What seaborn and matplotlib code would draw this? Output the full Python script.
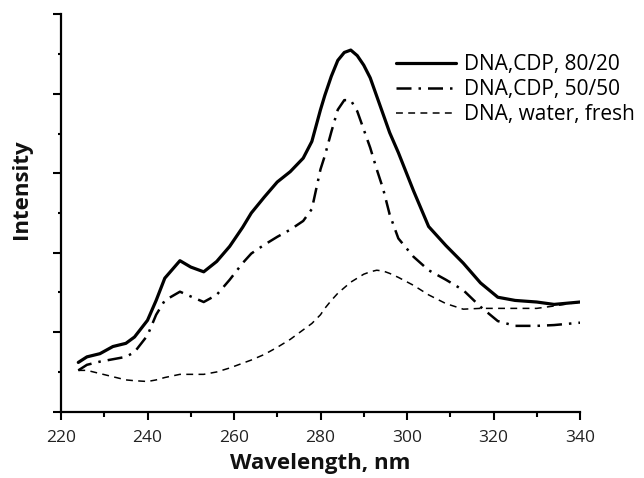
import matplotlib
matplotlib.use("Agg")
import matplotlib.pyplot as plt
from matplotlib.ticker import MultipleLocator, NullFormatter
import seaborn as sns
import pandas as pd

wavelength = [224, 226, 229, 232, 235, 237, 240, 242, 244, 247.5, 250, 253, 256, 259,
              262, 264, 267, 270, 273, 276, 278, 280, 281, 282.5, 284, 285.5, 287, 288.5,
              290, 291.5, 293, 294.5, 296, 298, 301.5, 305, 309, 313, 317, 321, 325, 330,
              334, 340]

cdp_80_20 = [0.62, 0.69, 0.73, 0.82, 0.86, 0.94, 1.15, 1.40, 1.68, 1.90, 1.82, 1.76, 1.89, 2.08,
             2.32, 2.50, 2.70, 2.89, 3.02, 3.19, 3.40, 3.80, 3.98, 4.22, 4.42, 4.52, 4.55, 4.48,
             4.36, 4.20, 3.97, 3.74, 3.51, 3.26, 2.78, 2.33, 2.09, 1.87, 1.62, 1.44, 1.40, 1.38,
             1.35, 1.38]

cdp_50_50 = [0.52, 0.59, 0.63, 0.66, 0.69, 0.75, 0.96, 1.22, 1.40, 1.51, 1.45, 1.38, 1.47, 1.66,
             1.87, 1.99, 2.10, 2.20, 2.29, 2.40, 2.55, 3.05, 3.22, 3.52, 3.80, 3.92, 3.92, 3.78,
             3.55, 3.32, 3.05, 2.80, 2.48, 2.18, 1.95, 1.78, 1.66, 1.53, 1.32, 1.14, 1.08, 1.08,
             1.09, 1.12]

water_fresh = [0.52, 0.52, 0.48, 0.44, 0.40, 0.39, 0.38, 0.40, 0.43, 0.47, 0.47, 0.47, 0.50, 0.55,
               0.61, 0.65, 0.72, 0.81, 0.91, 1.03, 1.11, 1.22, 1.30, 1.40, 1.49, 1.56, 1.63, 1.68,
               1.73, 1.76, 1.78, 1.77, 1.74, 1.69, 1.59, 1.47, 1.36, 1.29, 1.30, 1.30, 1.30, 1.30,
               1.33, 1.38]

labels = ["DNA,CDP, 80/20", "DNA,CDP, 50/50", "DNA, water, fresh"]
x_ticks = [220, 240, 260, 280, 300, 320, 340]

sns.set_theme(style="ticks")
plt.rcParams["font.family"] = ["Open Sans", "DejaVu Sans"]

fig = plt.figure(figsize=(6.44, 4.78), dpi=100)
ax = fig.add_axes([61 / 644, 1 - 411.7 / 478, (580 - 61) / 644, (411.7 - 14.3) / 478])

series = [cdp_80_20, cdp_50_50, water_fresh]
styles = [dict(lw=2.3, ls="-"),
          dict(lw=1.8, ls=(0, (6, 2.8, 1, 2.8))),
          dict(lw=1.1, ls=(0, (4.5, 3.5)))]

for vals, lab, st in zip(series, labels, styles):
    df = pd.DataFrame({"Wavelength": wavelength, "Intensity": vals})
    sns.lineplot(data=df, x="Wavelength", y="Intensity", ax=ax, color="black",
                 linewidth=st["lw"], linestyle=st["ls"], label=lab, sort=False)

ax.set_xlim(220, 340)
ax.set_ylim(0, 5)
ax.set_xticks(x_ticks)
ax.set_xticklabels([str(t) for t in x_ticks])
ax.xaxis.set_minor_locator(MultipleLocator(10))
ax.yaxis.set_major_locator(MultipleLocator(1))
ax.yaxis.set_minor_locator(MultipleLocator(0.5))
ax.yaxis.set_major_formatter(NullFormatter())

sns.despine(ax=ax)
for sp in ["left", "bottom"]:
    ax.spines[sp].set_linewidth(1.6)
    ax.spines[sp].set_color("black")

ax.tick_params(axis="x", which="major", length=6, width=1.5, color="black",
               labelsize=12.5, labelcolor="#222222", pad=7)
ax.tick_params(axis="x", which="minor", length=3.5, width=1.5, color="black")
ax.tick_params(axis="y", which="major", length=6, width=1.5, color="black", labelleft=False)
ax.tick_params(axis="y", which="minor", length=2.5, width=1.5, color="black")

ax.set_xlabel("Wavelength, nm", fontsize=16, fontweight="bold", color="#111111", labelpad=5)
ax.set_ylabel("Intensity", fontsize=16, fontweight="bold", color="#111111")
ax.yaxis.set_label_coords(-0.055, 0.56)
ax.grid(False)

leg = ax.legend(loc="upper left", bbox_to_anchor=(396 / 644, 1 - 54 / 478),
                bbox_transform=fig.transFigure, frameon=False, fontsize=15,
                handlelength=2.9, handletextpad=0.35, labelspacing=0.2, borderaxespad=0,
                borderpad=0)
for t in leg.get_texts():
    t.set_color("black")

fig.savefig("out.png", dpi=100)
